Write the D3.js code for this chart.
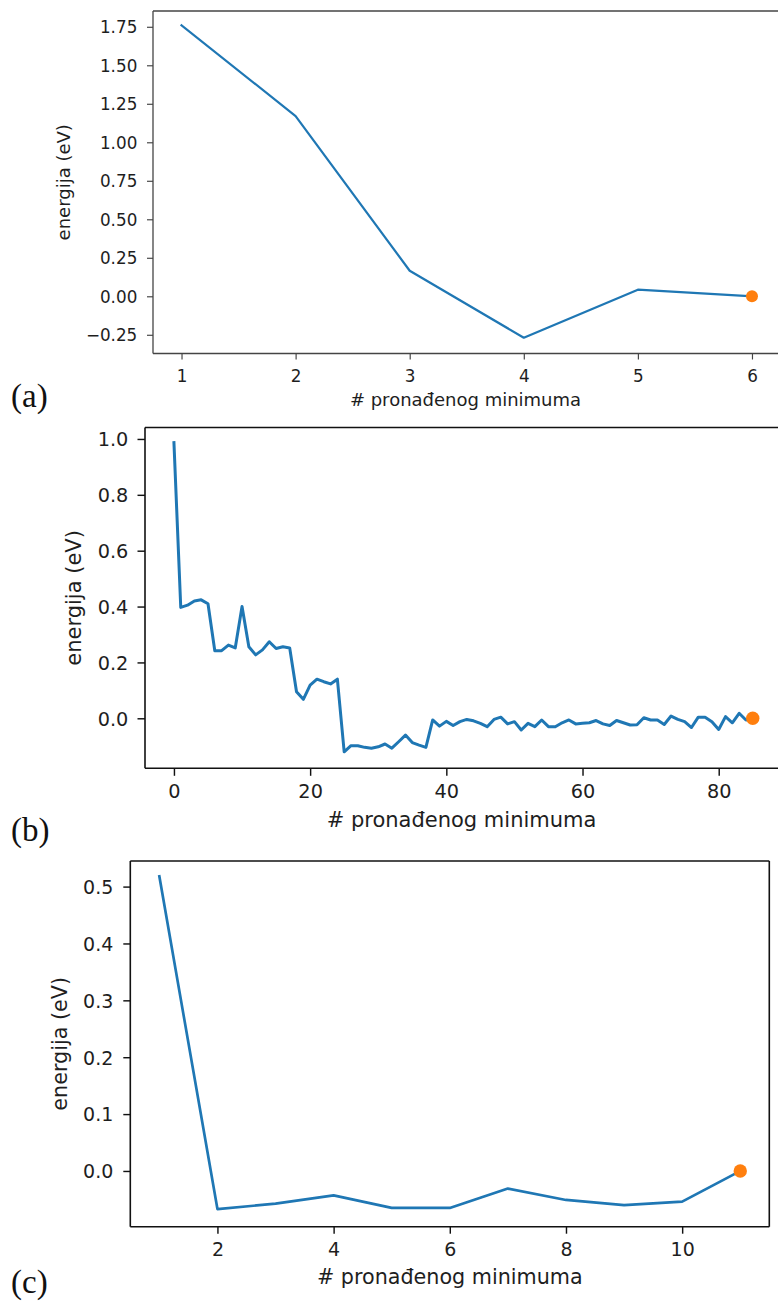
<!DOCTYPE html>
<html>
<head>
<meta charset="utf-8">
<script src="https://cdn.jsdelivr.net/npm/d3@7"></script>
<style>
  html, body { margin: 0; padding: 0; background: #fff; }
  svg { display: block; }
</style>
</head>
<body>
<svg id="chart" width="778" height="1302"></svg>
<script>
// ---------------- DATA ----------------
// Panel (a)
const aX = [1, 2, 3, 4, 5, 6];
const aY = [1.76, 1.17, 0.166, -0.269, 0.043, 0.0];
const aYTicks = [-0.25, 0, 0.25, 0.5, 0.75, 1.0, 1.25, 1.5, 1.75];
const aXTicks = [1, 2, 3, 4, 5, 6];

// Panel (b)
const bY = [
  0.987, 0.397, 0.405, 0.42, 0.424, 0.41, 0.242, 0.242, 0.262, 0.252,
  0.40, 0.256, 0.227, 0.245, 0.274, 0.25, 0.256, 0.252, 0.095, 0.068,
  0.119, 0.14, 0.131, 0.123, 0.14, -0.12, -0.098, -0.098, -0.104, -0.107,
  -0.102, -0.092, -0.107, -0.084, -0.06, -0.087, -0.096, -0.104, -0.006, -0.028,
  -0.011, -0.026, -0.012, -0.004, -0.009, -0.018, -0.03, -0.004, 0.004, -0.02,
  -0.012, -0.042, -0.018, -0.03, -0.006, -0.03, -0.03, -0.016, -0.006, -0.02,
  -0.018, -0.016, -0.008, -0.02, -0.026, -0.008, -0.016, -0.024, -0.023, 0.002,
  -0.006, -0.006, -0.022, 0.008, -0.004, -0.012, -0.033, 0.004, 0.004, -0.012,
  -0.04, 0.006, -0.016, 0.018, -0.006, 0.0
];
const bX = bY.map((d, i) => i);
const bYTicks = [0, 0.2, 0.4, 0.6, 0.8, 1.0];
const bXTicks = [0, 20, 40, 60, 80];

// Panel (c)
const cX = [1, 2, 3, 4, 5, 6, 7, 8, 9, 10, 11];
const cY = [0.518, -0.067, -0.0575, -0.043, -0.065, -0.065, -0.031, -0.051, -0.060, -0.054, 0.0];
const cYTicks = [0, 0.1, 0.2, 0.3, 0.4, 0.5];
const cXTicks = [2, 4, 6, 8, 10];

const xLabelText = "# pronađenog minimuma";
const yLabelText = "energija (eV)";
const panelTags = ["(a)", "(b)", "(c)"];

// ---------------- LAYOUT ----------------
const svg = d3.select("#chart");
svg.append("rect").attr("width", 778).attr("height", 1302).attr("fill", "#fff");

const BLUE = "#1f77b4", ORANGE = "#ff7f0e", INK = "#1e1e1e";
const FONT = "DejaVu Sans, sans-serif";

const panels = [
  {
    xs: aX, ys: aY, xt: aXTicks, yt: aYTicks,
    xDom: [0.75, 6.25], yDom: [-0.3715, 1.8525],
    left: 153, right: 780.5, top: 11, bottom: 353.5,
    tick: 6, tickFont: 16.8, labelFont: 18,
    yTickRight: 137.3, xTickBase: 381.5, xLabelBase: 406, yLabelX: 70,
    spineColor: "#444", spineW: 1.3, lineW: 2.2, r: 6,
    yFmt: d3.format(".2f"), xFmt: d3.format("d"),
    tag: panelTags[0], tagBase: 407, rightSpine: false
  },
  {
    xs: bX, ys: bY, xt: bXTicks, yt: bYTicks,
    xDom: [-4.25, 89.25], yDom: [-0.179, 1.041],
    left: 145, right: 781.7, top: 427.5, bottom: 768.3,
    tick: 7.5, tickFont: 19.3, labelFont: 21,
    yTickRight: 128.3, xTickBase: 798, xLabelBase: 827, yLabelX: 81,
    spineColor: "#111", spineW: 1.6, lineW: 3, r: 6.7,
    yFmt: d3.format(".1f"), xFmt: d3.format("d"),
    tag: panelTags[1], tagBase: 841, rightSpine: false
  },
  {
    xs: cX, ys: cY, xt: cXTicks, yt: cYTicks,
    xDom: [0.5, 11.5], yDom: [-0.098, 0.545],
    left: 130.3, right: 769.3, top: 861, bottom: 1226.7,
    tick: 7, tickFont: 19, labelFont: 20.7,
    yTickRight: 113.3, xTickBase: 1256.5, xLabelBase: 1284, yLabelX: 67,
    spineColor: "#111", spineW: 1.6, lineW: 2.7, r: 6.7,
    yFmt: d3.format(".1f"), xFmt: d3.format("d"),
    tag: panelTags[2], tagBase: 1293, rightSpine: true
  }
];

panels.forEach(p => {
  const x = d3.scaleLinear().domain(p.xDom).range([p.left, p.right]);
  const y = d3.scaleLinear().domain(p.yDom).range([p.bottom, p.top]);
  const g = svg.append("g");

  // line
  const pts = p.xs.map((v, i) => [v, p.ys[i]]);
  g.append("path")
    .datum(pts)
    .attr("fill", "none")
    .attr("stroke", BLUE)
    .attr("stroke-width", p.lineW)
    .attr("stroke-linejoin", "round")
    .attr("stroke-linecap", "square")
    .attr("d", d3.line().x(d => x(d[0])).y(d => y(d[1])));

  // final point
  const last = pts[pts.length - 1];
  g.append("circle")
    .attr("cx", x(last[0])).attr("cy", y(last[1]))
    .attr("r", p.r).attr("fill", ORANGE);

  // spines
  const sp = g.append("g").attr("stroke", p.spineColor).attr("stroke-width", p.spineW).attr("fill", "none");
  sp.append("line").attr("x1", p.left).attr("x2", p.left).attr("y1", p.top).attr("y2", p.bottom);
  sp.append("line").attr("x1", p.left).attr("x2", p.right).attr("y1", p.bottom).attr("y2", p.bottom);
  sp.append("line").attr("x1", p.left).attr("x2", p.right).attr("y1", p.top).attr("y2", p.top);
  if (p.rightSpine)
    sp.append("line").attr("x1", p.right).attr("x2", p.right).attr("y1", p.top).attr("y2", p.bottom);

  // x axis
  const xa = g.append("g").attr("transform", `translate(0,${p.bottom})`)
    .call(d3.axisBottom(x).tickValues(p.xt).tickSize(p.tick).tickFormat(p.xFmt));
  xa.select(".domain").remove();
  xa.selectAll(".tick line").attr("stroke", p.spineColor).attr("stroke-width", p.spineW * 0.9);
  xa.selectAll(".tick text")
    .attr("y", p.xTickBase - p.bottom).attr("dy", 0)
    .attr("fill", INK).style("font-family", FONT).style("font-size", p.tickFont + "px");

  // y axis
  const ya = g.append("g").attr("transform", `translate(${p.left},0)`)
    .call(d3.axisLeft(y).tickValues(p.yt).tickSize(p.tick).tickFormat(d => p.yFmt(d).replace("-", "\u2212")));
  ya.select(".domain").remove();
  ya.selectAll(".tick line").attr("stroke", p.spineColor).attr("stroke-width", p.spineW * 0.9);
  ya.selectAll(".tick text")
    .attr("x", p.yTickRight - p.left).attr("dy", "0.36em")
    .attr("fill", INK).style("font-family", FONT).style("font-size", p.tickFont + "px");

  // axis labels
  g.append("text")
    .attr("x", (p.left + Math.min(p.right, 778)) / 2)
    .attr("y", p.xLabelBase)
    .attr("text-anchor", "middle")
    .attr("fill", INK).style("font-family", FONT).style("font-size", p.labelFont + "px")
    .text(xLabelText);

  g.append("text")
    .attr("transform", `translate(${p.yLabelX},${(p.top + p.bottom) / 2}) rotate(-90)`)
    .attr("text-anchor", "middle")
    .attr("fill", INK).style("font-family", FONT).style("font-size", p.labelFont + "px")
    .text(yLabelText);

  // panel tag
  svg.append("text")
    .attr("x", 11).attr("y", p.tagBase)
    .attr("fill", "#111")
    .style("font-family", "Liberation Serif, serif").style("font-size", "33px")
    .text(p.tag);
});
</script>
</body>
</html>
